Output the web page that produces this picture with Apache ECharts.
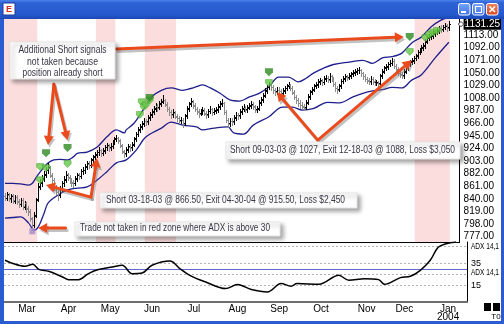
<!DOCTYPE html>
<html>
<head>
<meta charset="utf-8">
<script src="https://cdn.jsdelivr.net/npm/echarts@6/dist/echarts.min.js"></script>
<style>
html,body{margin:0;padding:0;background:#fff;overflow:hidden}
#chart{width:504px;height:324px}
</style>
</head>
<body>
<div id="chart"></div>
<script>
// ---------- DATA ----------
const opens = [
845,841,847,841,846,837,844,835,831,839,
827,833,825,819,807,797,814,840,861,867,
875,881,889,892,879,871,859,851,847,859,
867,873,881,875,871,867,867,875,881,879,
886,889,895,899,897,906,911,915,919,921,
917,921,927,929,926,929,936,941,941,937,
929,919,916,923,927,926,931,941,949,956,
961,966,969,969,976,981,986,991,994,993,
999,1003,1004,997,989,984,981,983,977,974,
971,971,966,979,991,999,1002,995,989,985,
983,986,987,982,981,987,989,985,988,989,
994,999,999,984,971,966,969,969,976,979,
979,986,991,992,989,993,996,997,993,989,
991,1001,1006,1013,1021,1027,1029,1026,1021,1019,
1021,1019,1017,1021,1025,1029,1029,1024,1017,1009,
1004,999,997,993,993,1001,1011,1019,1023,1029,
1031,1036,1037,1035,1041,1041,1039,1044,1039,1031,
1024,1023,1029,1037,1041,1043,1043,1046,1049,1051,
1053,1055,1054,1049,1044,1039,1037,1036,1039,1035,
1034,1033,1033,1046,1053,1059,1061,1065,1067,1069,
1061,1055,1049,1047,1046,1053,1059,1065,1069,1071,
1075,1079,1085,1089,1093,1096,1103,1109,1111,1113,
1116,1119,1121,1125,1123,1127,1129,1126];
const highs = [
850,852,850,849,848,847,846,840,842,841,
837,835,829,824,810,818,842,866,874,880,
886,894,900,895,884,875,864,855,862,870,
878,886,884,880,875,872,879,884,884,890,
893,898,904,903,909,914,918,922,926,924,
925,930,934,932,933,939,944,947,944,940,
932,922,926,932,931,935,944,952,959,964,
969,974,973,979,984,989,994,999,998,1003,
1007,1013,1007,1001,993,988,989,986,981,978,
977,974,982,994,1002,1008,1005,999,993,989,
990,993,991,986,990,995,992,991,993,998,
1003,1006,1002,988,975,975,974,980,985,983,
990,995,998,995,997,1000,1003,1001,996,995,
1004,1009,1016,1024,1030,1035,1033,1030,1025,1027,
1026,1023,1024,1028,1032,1035,1032,1028,1021,1013,
1008,1004,1001,998,1004,1014,1022,1026,1032,1034,
1039,1042,1040,1044,1047,1045,1050,1047,1043,1035,
1028,1032,1040,1044,1048,1047,1049,1052,1054,1056,
1058,1060,1057,1052,1048,1043,1041,1044,1043,1039,
1038,1037,1048,1056,1062,1064,1068,1071,1075,1073,
1065,1059,1053,1051,1056,1062,1068,1072,1074,1078,
1082,1088,1092,1096,1099,1106,1112,1114,1117,1119,
1122,1124,1128,1129,1130,1133,1132,1136];
const lows = [
838,839,836,835,833,834,831,826,829,824,
823,819,814,803,788,794,810,836,856,862,
870,876,884,876,867,855,848,838,843,854,
862,868,871,867,862,860,863,870,873,875,
881,884,890,891,893,901,906,910,914,911,
913,917,922,920,921,925,931,936,933,926,
916,910,912,919,920,922,928,937,945,951,
957,962,963,965,972,977,982,987,987,989,
995,999,994,986,980,975,977,974,970,966,
967,960,963,975,987,994,992,986,981,977,
979,982,979,975,977,983,980,981,983,985,
990,994,981,968,960,962,963,965,972,973,
975,982,987,984,985,989,992,990,985,985,
988,997,1002,1009,1017,1023,1022,1017,1013,1015,
1015,1011,1013,1017,1021,1025,1021,1014,1006,1000,
995,992,989,988,990,998,1007,1015,1019,1024,
1027,1031,1029,1031,1036,1034,1035,1036,1028,1020,
1016,1019,1025,1033,1037,1038,1039,1042,1044,1046,
1048,1050,1045,1040,1036,1033,1031,1032,1032,1029,
1030,1028,1030,1042,1049,1054,1057,1061,1063,1058,
1052,1046,1043,1041,1042,1049,1055,1061,1065,1067,
1071,1075,1081,1085,1088,1092,1099,1104,1106,1108,
1111,1114,1117,1118,1119,1123,1120,1122];
const closes = [
842,848,840,845,838,843,836,832,838,828,
832,824,820,808,796,812,838,860,868,874,
880,888,893,880,872,860,852,846,858,866,
872,880,876,872,868,866,874,880,878,886,
888,894,900,896,905,910,914,918,922,916,
920,926,930,925,928,935,940,942,938,930,
920,915,922,928,925,930,940,948,955,960,
965,970,968,975,980,985,990,995,992,998,
1002,1005,998,990,985,980,984,978,975,970,
972,965,978,990,998,1003,996,990,986,982,
985,988,983,980,986,990,984,987,988,993,
998,1000,985,972,965,970,968,975,980,978,
985,990,993,988,992,995,998,994,988,990,
1000,1005,1012,1020,1026,1030,1027,1022,1018,1022,
1020,1016,1020,1024,1028,1030,1025,1018,1010,1005,
1000,996,994,992,1000,1010,1018,1022,1028,1030,
1035,1038,1034,1040,1042,1038,1045,1040,1032,1025,
1022,1028,1036,1040,1044,1042,1045,1048,1050,1052,
1054,1055,1050,1045,1040,1038,1035,1040,1036,1033,
1034,1032,1045,1052,1058,1060,1064,1066,1070,1062,
1056,1050,1048,1045,1052,1058,1064,1068,1070,1074,
1078,1084,1088,1092,1095,1102,1108,1110,1112,1115,
1118,1120,1124,1122,1126,1128,1125,1131.25];

// channel bands: [bar index, price]
const upperBand = [[0,866],[4,866],[8,865],[12,863],[14,866],[16,876],[18,885],[20,893],[22,900],[25,905],[28,906],[32,905],[35,910],[37,916],[42,918],[47,926],[52,943],[57,955],[61,950],[62,955],[66,966],[70,985],[75,1010],[80,1021],[85,1025],[91,1021],[95,1024],[98,1027],[101,1030],[105,1025],[110,1016],[115,1005],[120,1003],[125,1010],[130,1016],[135,1027],[140,1043],[145,1043],[150,1035],[154,1041],[158,1050],[163,1058],[168,1064],[176,1068],[183,1071],[188,1066],[193,1075],[198,1077],[203,1083],[208,1100],[213,1110],[218,1127],[223,1138],[227,1143]];
const lowerBand = [[0,808],[4,809],[8,810],[12,800],[15,788],[17,793],[20,816],[22,833],[27,846],[32,855],[37,858],[42,860],[47,871],[52,885],[57,900],[62,905],[67,921],[72,943],[80,958],[85,968],[91,963],[98,960],[101,955],[107,958],[114,960],[117,950],[122,948],[127,963],[135,977],[142,993],[147,993],[152,988],[158,991],[165,1001],[171,1000],[178,1010],[183,1016],[188,1020],[193,1022],[198,1026],[203,1025],[208,1038],[213,1047],[220,1075],[227,1101]];

// ADX(14): [bar index, value]
const adx = [[0,37.7],[4,34.7],[10,32.2],[14,34],[17,29.5],[22,27.7],[29,22.6],[32,20.2],[37,20.2],[42,25.6],[47,29.3],[54,31.6],[59,33.2],[64,25.6],[69,26.2],[74,33.2],[83,37],[88,30.2],[93,24.1],[101,18],[111,12.1],[117,15.7],[124,11.2],[132,9],[139,16.6],[144,14.2],[147,16.6],[158,16],[168,24.1],[173,19.6],[181,21.1],[188,20.2],[191,16],[199,22],[204,23.2],[209,28.6],[214,37.7],[218,49.4],[222,52.7],[227,54.2]];

// signals: [bar index, price]
const shortSignals = [[21,916],[32,925],[74,1008],[135,1051],[207,1110]];
const entrySignals = [[18,871],[18,893],[21,891],[32,898],[69,980],[70,1001],[71,993],[72,996],[74,1004],[135,1033],[207,1085],[215,1108],[217,1113],[219,1117],[221,1120]];
const skippedTrade = [[14,786]];

// red zones (ADX above 30): [first bar, last bar]
const redZones = [[0,16],[47,56],[72,87],[210,227]];

const priceTicks = [777,798,819,840,861,882,903,924,945,966,987,1008,1029,1050,1071,1092,1113];
const lastPrice = 1131.25;
const adxTicks = [15,35];
const adxGrid = [15,25,35,50];
const adxThreshold = 30;
const monthNames = ['Jan','Feb','Mar','Apr','May','Jun','Jul','Aug','Sep','Oct','Nov','Dec'];
const holidays = ['2003-02-17','2003-04-18','2003-05-26','2003-07-04','2003-09-01','2003-11-27','2003-12-25','2004-01-01'];

// ---------- BUILD ----------
const tradingDays = [];
for (let d = new Date(Date.UTC(2003,1,13)); tradingDays.length < closes.length; d.setUTCDate(d.getUTCDate()+1)) {
  const wd = d.getUTCDay(); const s = d.toISOString().slice(0,10);
  if (wd === 0 || wd === 6 || holidays.indexOf(s) >= 0) continue;
  tradingDays.push(s);
}
const categories = tradingDays.concat(['','','','','']);
const monthStarts = new Set();
for (let i = 1; i < tradingDays.length; i++) {
  if (tradingDays[i].slice(5,7) !== tradingDays[i-1].slice(5,7)) monthStarts.add(i);
}

const NARROW = '"Liberation Sans Narrow","Arial Narrow","Liberation Sans",Arial,sans-serif';
const SANS = '"Liberation Sans",Arial,sans-serif';
const SHIELD = 'path://M0,0 L10,0 L10,5 L5,10 L0,5 Z';

const chart = echarts.init(document.getElementById('chart'), null, {renderer:'canvas', width:504, height:324});
const barData = closes.map((c,i)=>[i, opens[i], highs[i], lows[i], c]);

function renderBar(params, api){
  const k = api.value(0), o = api.value(1), h = api.value(2), l = api.value(3), c = api.value(4);
  const ph = api.coord([k,h]), pl = api.coord([k,l]), po = api.coord([k,o]), pc = api.coord([k,c]);
  const xi = Math.round(ph[0]);
  const col = c >= o ? '#000000' : '#8c8c8c';
  const st = {stroke: col, lineWidth: 1};
  const yo = Math.round(po[1]) + 0.5, yc = Math.round(pc[1]) + 0.5;
  return {type:'group', children:[
    {type:'line', shape:{x1:xi+0.5, y1:Math.round(ph[1]), x2:xi+0.5, y2:Math.round(pl[1])+1}, style:st},
    {type:'line', shape:{x1:xi-1, y1:yo, x2:xi, y2:yo}, style:st},
    {type:'line', shape:{x1:xi+1, y1:yc, x2:xi+2, y2:yc}, style:st}
  ]};
}
function renderZone(params, api){
  const a = api.value(0), b = api.value(1);
  const cs = params.coordSys;
  const w = api.size([1,0])[0];
  const x0 = api.coord([a, 900])[0] - w/2, x1 = api.coord([b, 900])[0] + w/2;
  return {type:'rect', shape:{x:x0, y:cs.y, width:x1-x0, height:cs.height}, style:{fill:'#fbdddd'}};
}

const option = {
  animation:false,
  backgroundColor:'#ffffff',
  grid:[{left:4, top:19, width:463, height:223}, {left:4, top:242, width:463, height:60}],
  xAxis:[
    {type:'category', gridIndex:0, data:categories, boundaryGap:true,
     axisLine:{show:true, lineStyle:{color:'#000', width:1}}, axisTick:{show:false}, axisLabel:{show:false}, splitLine:{show:false}},
    {type:'category', gridIndex:1, data:categories, boundaryGap:true,
     axisLine:{show:true, lineStyle:{color:'#6e6e6e', width:2}}, axisTick:{show:false}, splitLine:{show:false},
     axisLabel:{interval:(i)=>monthStarts.has(i), fontFamily:NARROW, fontSize:10, color:'#000', margin:3, lineHeight:8,
       formatter:(v)=> v ? (v.slice(0,7)==='2004-01' ? 'Jan\n2004' : monthNames[+v.slice(5,7)-1]) : ''}}
  ],
  yAxis:[
    {type:'value', gridIndex:0, position:'right', min:768.17, max:1139.83,
     axisLine:{show:true, lineStyle:{color:'#000'}}, axisTick:{show:false}, splitLine:{show:false},
     axisLabel:{customValues: priceTicks.concat([lastPrice]), fontFamily:NARROW, fontSize:10, color:'#000', margin:4,
       formatter:(v)=> v === lastPrice ? '{hl|' + v.toFixed(2) + '}' : v.toFixed(2),
       rich:{hl:{backgroundColor:'#000', color:'#fff', fontFamily:NARROW, fontSize:10, padding:[1,1,0,1]}}}},
    {type:'value', gridIndex:1, position:'right', min:0, max:54.2,
     axisLine:{show:true, lineStyle:{color:'#000'}}, axisTick:{show:false}, splitLine:{show:false},
     axisLabel:{customValues: adxTicks, fontFamily:NARROW, fontSize:9, color:'#000', margin:4}}
  ],
  series:[
    {type:'custom', name:'zones', xAxisIndex:0, yAxisIndex:0, silent:true, z:1,
     data: redZones.map(z=>[z[0], z[1], 900]), encode:{x:[0,1], y:2}, renderItem: renderZone},
    {type:'line', name:'upper', xAxisIndex:0, yAxisIndex:0, data:upperBand, smooth:0.35, showSymbol:false, silent:true,
     lineStyle:{color:'#1e1e8c', width:1.3}, z:3},
    {type:'line', name:'lower', xAxisIndex:0, yAxisIndex:0, data:lowerBand, smooth:0.35, showSymbol:false, silent:true,
     lineStyle:{color:'#1e1e8c', width:1.3}, z:3},
    {type:'custom', name:'bars', xAxisIndex:0, yAxisIndex:0, data:barData, encode:{x:0, y:[2,3]}, renderItem:renderBar, z:4, silent:true},
    {type:'scatter', name:'entry', xAxisIndex:0, yAxisIndex:0, data:entrySignals, symbol:SHIELD, symbolSize:[7,7],
     itemStyle:{color:'#66c846', borderColor:'#3f9a2c', borderWidth:0.6}, z:6, silent:true},
    {type:'scatter', name:'short', xAxisIndex:0, yAxisIndex:0, data:shortSignals, symbol:SHIELD, symbolSize:[8,8],
     itemStyle:{color:'#2e8a22'}, z:7, silent:true},
    {type:'scatter', name:'skipped', xAxisIndex:0, yAxisIndex:0, data:skippedTrade, symbol:'rect', symbolSize:6,
     itemStyle:{color:'#a58bc8'}, z:6, silent:true},
    {type:'line', name:'ADX', xAxisIndex:1, yAxisIndex:1, data:adx, smooth:0.35, showSymbol:false, silent:true,
     lineStyle:{color:'#000', width:1.5}, z:5,
     markLine:{silent:true, symbol:'none', label:{show:false}, animation:false,
       data: adxGrid.map(v=>({yAxis:v, lineStyle:{color:'#b4b4b4', type:[2,2], width:1}}))
         .concat([{yAxis:adxThreshold, lineStyle:{color:'#6464d2', type:'solid', width:1}}])}}
  ]
};
chart.setOption(option);

// ---------- ANNOTATIONS ----------
const mctx = document.createElement('canvas').getContext('2d');
function fitText(text, x, y, targetW, font, color, align){
  mctx.font = font;
  const w = mctx.measureText(text).width;
  return {type:'text', x:x, y:y, scaleX: targetW / w, z:120,
    style:{text:text, font:font, fill:color, textAlign:align||'left', textVerticalAlign:'middle', align:align||'left', verticalAlign:'middle'}};
}
const P = (pt)=>chart.convertToPixel({gridIndex:0}, pt);
const PA = (pt)=>chart.convertToPixel({gridIndex:1}, pt);

function arrowShapes(from, to){
  const a = P(from), b = P(to);
  const dx=b[0]-a[0], dy=b[1]-a[1], len=Math.hypot(dx,dy), ux=dx/len, uy=dy/len;
  const hl=9, hw=5;
  const base=[b[0]-ux*hl, b[1]-uy*hl];
  const left=[base[0]-uy*hw, base[1]+ux*hw], right=[base[0]+uy*hw, base[1]-ux*hw];
  return {a, base, b, left, right};
}
const arrows = [
  [[57,1090],[204,1110]],
  [[25,1031],[21.6,930]],
  [[25,1031],[32,938]],
  [[44,843],[20.6,863]],
  [[44,843],[46.8,908]],
  [[31,791.5],[17,791.5]],
  [[159.5,938],[139.4,1018]],
  [[159.5,938],[208.4,1071]]
];
const g = [];
arrows.forEach(ar=>{
  const s = arrowShapes(ar[0], ar[1]);
  const off = (p)=>[p[0]+1.5, p[1]+2.5];
  g.push({type:'polyline', z:110, shape:{points:[off(s.a), off(s.base)]}, style:{stroke:'rgba(120,120,120,0.45)', lineWidth:3, lineCap:'round', fill:null}});
  g.push({type:'polygon', z:110, shape:{points:[off(s.b), off(s.left), off(s.right)]}, style:{fill:'rgba(120,120,120,0.45)'}});
});
arrows.forEach(ar=>{
  const s = arrowShapes(ar[0], ar[1]);
  g.push({type:'polyline', z:111, shape:{points:[s.a, s.base]}, style:{stroke:'#ea4a1c', lineWidth:3, lineCap:'round', fill:null}});
  g.push({type:'polygon', z:111, shape:{points:[s.b, s.left, s.right]}, style:{fill:'#ea4a1c'}});
});

function box(x,y,w,h){
  return {type:'rect', z:112, shape:{x:x,y:y,width:w,height:h},
    style:{fill:'#ffffff', stroke:'#e6e6e6', lineWidth:1, shadowBlur:4, shadowOffsetX:3, shadowOffsetY:3, shadowColor:'rgba(0,0,0,0.35)'}};
}
const TXT = '#3a3646';
const AF = '10px ' + SANS;
g.push(box(10,42,105,37));
g.push(fitText('Additional Short signals', 62.5, 50.5, 88, AF, TXT, 'center'));
g.push(fitText('not taken because', 62.5, 62, 71, AF, TXT, 'center'));
g.push(fitText('position already short', 62.5, 73.5, 80, AF, TXT, 'center'));
g.push(box(100,193,257,15));
g.push(fitText('Short 03-18-03 @ 866.50, Exit 04-30-04 @ 915.50, Loss $2,450', 106, 200.5, 239, AF, TXT, 'left'));
g.push(box(75,222,205,14));
g.push(fitText('Trade not taken in red zone where ADX is above 30', 80, 228.5, 190, AF, TXT, 'left'));
g.push(box(226,142,234,17));
g.push(fitText('Short 09-03-03 @ 1027, Exit 12-18-03 @ 1088, Loss $3,050', 230, 150.5, 225, AF, TXT, 'left'));

// ADX labels
const yTop = PA([0, 54.2])[1];
const y30 = PA([0, adxThreshold])[1];
g.push(fitText('ADX 14,1', 471, yTop + 5, 28, '9px ' + SANS, '#000', 'left'));
g.push({type:'rect', z:119, shape:{x:470, y:y30-1, width:30, height:9}, style:{fill:'#fff'}});
g.push(fitText('ADX 14,1', 471, y30 + 3.5, 28, '9px ' + SANS, '#000', 'left'));

// last price pointer
const yl = P([0,lastPrice])[1];
g.push({type:'line', z:115, shape:{x1:459, y1:yl, x2:467, y2:yl}, style:{stroke:'#555', lineWidth:1}});
g.push({type:'polygon', z:115, shape:{points:[[458,yl],[461,yl-2.5],[464,yl],[461,yl+2.5]]}, style:{fill:'#fff', stroke:'#555', lineWidth:1}});

// window chrome
g.push({type:'rect', z:130, shape:{x:0,y:0,width:504,height:19},
  style:{fill:new echarts.graphic.LinearGradient(0,0,0,1,[{offset:0,color:'#4a82ea'},{offset:0.15,color:'#2e63d6'},{offset:0.8,color:'#2457cc'},{offset:1,color:'#1a47b4'}])}});
g.push({type:'rect', z:130, shape:{x:0,y:19,width:4,height:305}, style:{fill:'#2a5bd0'}});
g.push({type:'rect', z:130, shape:{x:501,y:19,width:3,height:305}, style:{fill:'#2a5bd0'}});
g.push({type:'rect', z:130, shape:{x:0,y:321,width:504,height:3}, style:{fill:'#2a5bd0'}});
g.push({type:'rect', z:131, shape:{x:3,y:3,width:12,height:12}, style:{fill:'#ffffff', stroke:'#1a3a9a', lineWidth:1}});
g.push({type:'text', z:132, x:9, y:9.5, style:{text:'E', font:'bold 9px ' + SANS, fill:'#d8281e', textAlign:'center', textVerticalAlign:'middle', align:'center', verticalAlign:'middle'}});
g.push(fitText('ES #F Daily C: N: H: L: O: B: A: V:0 OI:0', 17.5, 9.5, 157, 'bold 11px ' + SANS, '#ffffff', 'left'));
const btnGrad = ()=> new echarts.graphic.LinearGradient(0,0,0,1,[{offset:0,color:'#7aa8f8'},{offset:1,color:'#3a6ee6'}]);
g.push({type:'rect', z:131, shape:{x:458.5,y:3.5,width:11.5,height:11.5,r:2}, style:{fill:btnGrad(), stroke:'#ffffff', lineWidth:1}});
g.push({type:'rect', z:132, shape:{x:461,y:11,width:5,height:2}, style:{fill:'#ffffff'}});
g.push({type:'rect', z:131, shape:{x:472.5,y:3.5,width:11.5,height:11.5,r:2}, style:{fill:btnGrad(), stroke:'#ffffff', lineWidth:1}});
g.push({type:'rect', z:132, shape:{x:475.5,y:6.5,width:6,height:6}, style:{fill:null, stroke:'#ffffff', lineWidth:1.2}});
g.push({type:'rect', z:131, shape:{x:486.5,y:3.5,width:11.5,height:11.5,r:2},
  style:{fill:new echarts.graphic.LinearGradient(0,0,0,1,[{offset:0,color:'#f08a64'},{offset:1,color:'#d8441c'}]), stroke:'#ffffff', lineWidth:1}});
g.push({type:'line', z:132, shape:{x1:489.5,y1:6.5,x2:495,y2:12}, style:{stroke:'#fff', lineWidth:1.6}});
g.push({type:'line', z:132, shape:{x1:495,y1:6.5,x2:489.5,y2:12}, style:{stroke:'#fff', lineWidth:1.6}});
g.push({type:'rect', z:125, shape:{x:484,y:303,width:7,height:8}, style:{fill:'#000'}});
g.push({type:'rect', z:125, shape:{x:493,y:303,width:7,height:8}, style:{fill:'#000'}});
g.push({type:'text', z:125, x:496, y:317, style:{text:'T0', font:'8px ' + SANS, fill:'#000', textAlign:'center', textVerticalAlign:'middle', align:'center', verticalAlign:'middle'}});

chart.setOption({graphic:{elements:g}});
</script>
</body>
</html>
